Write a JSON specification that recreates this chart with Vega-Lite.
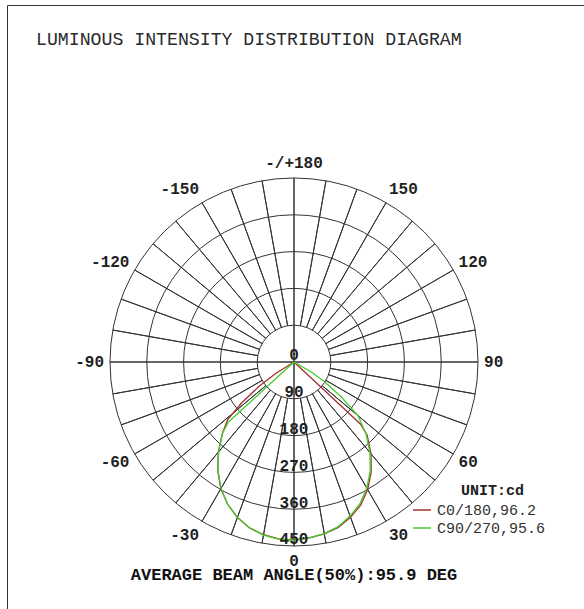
{
  "$schema": "https://vega.github.io/schema/vega-lite/v6.json",
  "width": 577,
  "height": 604,
  "autosize": {"type": "none"},
  "padding": {"left": 7, "top": 5, "right": 0, "bottom": 0},
  "background": "white",
  "config": {
    "view": {"stroke": "#333333", "strokeWidth": 1},
    "font": "Liberation Mono"
  },
  "title": {
    "text": "LUMINOUS INTENSITY DISTRIBUTION DIAGRAM",
    "orient": "top",
    "anchor": "start",
    "frame": "group",
    "offset": 0,
    "baseline": "middle",
    "dx": 29,
    "dy": 53,
    "font": "Liberation Mono",
    "fontSize": 18.2,
    "fontWeight": "normal",
    "color": "#2a2a2a"
  },
  "datasets": {
    "rings": [{"r": 90}, {"r": 180}, {"r": 270}, {"r": 360}, {"r": 450}],
    "spokes": [
      {"a": 0, "r0": 0}, {"a": 10, "r0": 90}, {"a": 20, "r0": 90}, {"a": 30, "r0": 90},
      {"a": 40, "r0": 90}, {"a": 50, "r0": 90}, {"a": 60, "r0": 90}, {"a": 70, "r0": 90},
      {"a": 80, "r0": 90}, {"a": 90, "r0": 0}, {"a": 100, "r0": 90}, {"a": 110, "r0": 90},
      {"a": 120, "r0": 90}, {"a": 130, "r0": 90}, {"a": 140, "r0": 90}, {"a": 150, "r0": 90},
      {"a": 160, "r0": 90}, {"a": 170, "r0": 90}, {"a": 180, "r0": 0}, {"a": 190, "r0": 90},
      {"a": 200, "r0": 90}, {"a": 210, "r0": 90}, {"a": 220, "r0": 90}, {"a": 230, "r0": 90},
      {"a": 240, "r0": 90}, {"a": 250, "r0": 90}, {"a": 260, "r0": 90}, {"a": 270, "r0": 0},
      {"a": 280, "r0": 90}, {"a": 290, "r0": 90}, {"a": 300, "r0": 90}, {"a": 310, "r0": 90},
      {"a": 320, "r0": 90}, {"a": 330, "r0": 90}, {"a": 340, "r0": 90}, {"a": 350, "r0": 90}
    ],
    "curves": [
      {"s": "C0/180,96.2", "g": -90, "I": 0},
      {"s": "C0/180,96.2", "g": -58, "I": 54},
      {"s": "C0/180,96.2", "g": -55, "I": 106},
      {"s": "C0/180,96.2", "g": -52, "I": 163},
      {"s": "C0/180,96.2", "g": -49, "I": 215},
      {"s": "C0/180,96.2", "g": -45, "I": 248},
      {"s": "C0/180,96.2", "g": -40, "I": 288},
      {"s": "C0/180,96.2", "g": -35, "I": 325},
      {"s": "C0/180,96.2", "g": -30, "I": 358},
      {"s": "C0/180,96.2", "g": -25, "I": 384},
      {"s": "C0/180,96.2", "g": -20, "I": 405},
      {"s": "C0/180,96.2", "g": -15, "I": 420},
      {"s": "C0/180,96.2", "g": -10, "I": 429},
      {"s": "C0/180,96.2", "g": -5, "I": 434},
      {"s": "C0/180,96.2", "g": 0, "I": 435},
      {"s": "C0/180,96.2", "g": 5, "I": 432},
      {"s": "C0/180,96.2", "g": 10, "I": 427},
      {"s": "C0/180,96.2", "g": 15, "I": 419},
      {"s": "C0/180,96.2", "g": 20, "I": 404},
      {"s": "C0/180,96.2", "g": 25, "I": 386},
      {"s": "C0/180,96.2", "g": 30, "I": 360},
      {"s": "C0/180,96.2", "g": 35, "I": 329},
      {"s": "C0/180,96.2", "g": 40, "I": 293},
      {"s": "C0/180,96.2", "g": 45, "I": 253},
      {"s": "C0/180,96.2", "g": 47, "I": 222},
      {"s": "C0/180,96.2", "g": 90, "I": 0},
      {"s": "C90/270,95.6", "g": -90, "I": 0},
      {"s": "C90/270,95.6", "g": -47.5, "I": 218},
      {"s": "C90/270,95.6", "g": -45, "I": 248},
      {"s": "C90/270,95.6", "g": -40, "I": 287},
      {"s": "C90/270,95.6", "g": -35, "I": 324},
      {"s": "C90/270,95.6", "g": -30, "I": 357},
      {"s": "C90/270,95.6", "g": -25, "I": 384},
      {"s": "C90/270,95.6", "g": -20, "I": 404},
      {"s": "C90/270,95.6", "g": -15, "I": 420},
      {"s": "C90/270,95.6", "g": -10, "I": 430},
      {"s": "C90/270,95.6", "g": -5, "I": 435},
      {"s": "C90/270,95.6", "g": 0, "I": 436},
      {"s": "C90/270,95.6", "g": 5, "I": 432},
      {"s": "C90/270,95.6", "g": 10, "I": 426},
      {"s": "C90/270,95.6", "g": 15, "I": 417},
      {"s": "C90/270,95.6", "g": 20, "I": 401},
      {"s": "C90/270,95.6", "g": 25, "I": 382},
      {"s": "C90/270,95.6", "g": 30, "I": 356},
      {"s": "C90/270,95.6", "g": 35, "I": 325},
      {"s": "C90/270,95.6", "g": 40, "I": 289},
      {"s": "C90/270,95.6", "g": 45, "I": 249},
      {"s": "C90/270,95.6", "g": 50, "I": 204},
      {"s": "C90/270,95.6", "g": 53.5, "I": 144},
      {"s": "C90/270,95.6", "g": 57, "I": 89},
      {"s": "C90/270,95.6", "g": 60, "I": 49},
      {"s": "C90/270,95.6", "g": 90, "I": 0}
    ],
    "outer": [
      {"t": "-/+180", "g": 180}, {"t": "150", "g": 150}, {"t": "120", "g": 120},
      {"t": "90", "g": 90}, {"t": "60", "g": 60}, {"t": "30", "g": 30},
      {"t": "0", "g": 0}, {"t": "-30", "g": -30}, {"t": "-60", "g": -60},
      {"t": "-90", "g": -90}, {"t": "-120", "g": -120}, {"t": "-150", "g": -150}
    ],
    "inner": [{"v": 0}, {"v": 90}, {"v": 180}, {"v": 270}, {"v": 360}, {"v": 450}],
    "note": [{"t": "AVERAGE BEAM ANGLE(50%):95.9 DEG"}],
    "unit": [{"t": "UNIT:cd"}]
  },
  "layer": [
    {
      "data": {"name": "rings"},
      "mark": {"type": "arc", "filled": false, "stroke": "#333333", "strokeWidth": 1, "theta": 0, "theta2": 6.2832},
      "encoding": {
        "x": {"datum": 0, "type": "quantitative", "scale": {"domain": [-701.9, 709.2], "nice": false, "zero": false}, "axis": null},
        "y": {"datum": 0, "type": "quantitative", "scale": {"domain": [-604.1, 873.1], "nice": false, "zero": false}, "axis": null},
        "radius": {"field": "r", "type": "quantitative", "stack": null, "scale": {"type": "linear", "domain": [0, 450], "range": [0, 184], "zero": true}}
      }
    },
    {
      "data": {"name": "spokes"},
      "transform": [{"calculate": "450", "as": "r1"}],
      "mark": {"type": "arc", "filled": false, "stroke": "#333333", "strokeWidth": 1},
      "encoding": {
        "x": {"datum": 0, "type": "quantitative"},
        "y": {"datum": 0, "type": "quantitative"},
        "theta": {"field": "a", "type": "quantitative", "stack": null, "scale": {"domain": [0, 360], "range": [0, 6.283185307]}},
        "theta2": {"field": "a"},
        "radius": {"field": "r1", "type": "quantitative", "stack": null},
        "radius2": {"field": "r0"}
      }
    },
    {
      "data": {"name": "curves"},
      "transform": [
        {"calculate": "datum.I * sin(datum.g * PI / 180)", "as": "px"},
        {"calculate": "-datum.I * cos(datum.g * PI / 180)", "as": "py"}
      ],
      "mark": {"type": "line", "strokeWidth": 1.3, "interpolate": "linear"},
      "encoding": {
        "x": {"field": "px", "type": "quantitative"},
        "y": {"field": "py", "type": "quantitative"},
        "order": {"field": "g", "type": "quantitative"},
        "color": {
          "field": "s",
          "type": "nominal",
          "scale": {"domain": ["C0/180,96.2", "C90/270,95.6"], "range": ["#a33131", "#44cc2c"]},
          "legend": {
            "orient": "none",
            "legendX": 405,
            "legendY": 495,
            "padding": 0,
            "title": null,
            "labelFont": "Liberation Mono",
            "labelFontSize": 15,
            "labelColor": "#333333",
            "labelOffset": 5,
            "symbolType": "stroke",
            "symbolSize": 324,
            "symbolStrokeWidth": 1.5,
            "rowPadding": 0
          }
        }
      }
    },
    {
      "data": {"name": "unit"},
      "mark": {"type": "text", "align": "center", "baseline": "middle", "fontSize": 15, "fontWeight": "bold", "font": "Liberation Mono", "color": "#222222"},
      "encoding": {
        "x": {"datum": 485.5, "type": "quantitative"},
        "y": {"datum": -313, "type": "quantitative"},
        "text": {"field": "t"}
      }
    },
    {
      "data": {"name": "outer"},
      "transform": [
        {"filter": "datum.g > 0 && datum.g < 180"},
        {"calculate": "464.7 * sin(datum.g * PI / 180)", "as": "px"},
        {"calculate": "-489.1 * cos(datum.g * PI / 180)", "as": "py"}
      ],
      "mark": {"type": "text", "align": "left", "baseline": "middle", "fontSize": 16, "fontWeight": "bold", "font": "Liberation Mono", "color": "#222222"},
      "encoding": {
        "x": {"field": "px", "type": "quantitative"},
        "y": {"field": "py", "type": "quantitative"},
        "text": {"field": "t"}
      }
    },
    {
      "data": {"name": "outer"},
      "transform": [
        {"filter": "datum.g < 0"},
        {"calculate": "464.7 * sin(datum.g * PI / 180)", "as": "px"},
        {"calculate": "-489.1 * cos(datum.g * PI / 180)", "as": "py"}
      ],
      "mark": {"type": "text", "align": "right", "baseline": "middle", "fontSize": 16, "fontWeight": "bold", "font": "Liberation Mono", "color": "#222222"},
      "encoding": {
        "x": {"field": "px", "type": "quantitative"},
        "y": {"field": "py", "type": "quantitative"},
        "text": {"field": "t"}
      }
    },
    {
      "data": {"name": "outer"},
      "transform": [
        {"filter": "datum.g == 0 || datum.g == 180"},
        {"calculate": "0", "as": "px"},
        {"calculate": "-487 * cos(datum.g * PI / 180)", "as": "py"}
      ],
      "mark": {"type": "text", "align": "center", "baseline": "middle", "fontSize": 16, "fontWeight": "bold", "font": "Liberation Mono", "color": "#222222"},
      "encoding": {
        "x": {"field": "px", "type": "quantitative"},
        "y": {"field": "py", "type": "quantitative"},
        "text": {"field": "t"}
      }
    },
    {
      "data": {"name": "inner"},
      "transform": [{"calculate": "-datum.v", "as": "py"}],
      "mark": {"type": "text", "align": "center", "baseline": "middle", "dy": -6.5, "fontSize": 16, "fontWeight": "bold", "font": "Liberation Mono", "color": "#222222"},
      "encoding": {
        "x": {"datum": 0, "type": "quantitative"},
        "y": {"field": "py", "type": "quantitative"},
        "text": {"field": "v", "type": "quantitative"}
      }
    },
    {
      "data": {"name": "note"},
      "mark": {"type": "text", "align": "center", "baseline": "middle", "fontSize": 17, "fontWeight": "bold", "font": "Liberation Mono", "color": "#111111"},
      "encoding": {
        "x": {"datum": 0, "type": "quantitative"},
        "y": {"datum": -521, "type": "quantitative"},
        "text": {"field": "t"}
      }
    }
  ]
}
